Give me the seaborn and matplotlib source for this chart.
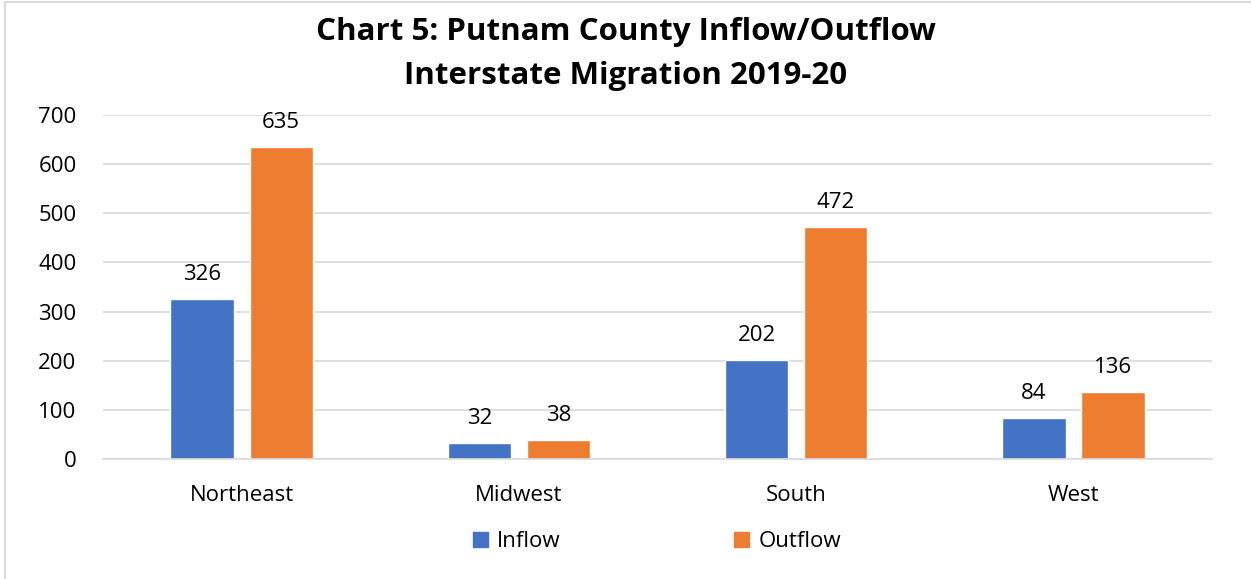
import seaborn as sns
import matplotlib.pyplot as plt
import pandas as pd
from matplotlib.patches import Rectangle

regions = ['Northeast', 'Midwest', 'South', 'West']
inflow = [326, 32, 202, 84]
outflow = [635, 38, 472, 136]
series = ['Inflow', 'Outflow']
colors = ['#4472C4', '#ED7D31']

df = pd.DataFrame({
    'region': regions * 2,
    'value': inflow + outflow,
    'flow': [series[0]] * len(regions) + [series[1]] * len(regions),
})

sns.set_style('white')
plt.rcParams['font.family'] = ['Open Sans', 'DejaVu Sans']
plt.rcParams['text.color'] = 'black'
plt.rcParams['xtick.color'] = 'black'
plt.rcParams['ytick.color'] = 'black'

fig = plt.figure(figsize=(12.51, 5.79), dpi=100)
ax = fig.add_axes([0.0823, 0.2073, 0.8866, 0.5941])

sns.barplot(data=df, x='region', y='value', hue='flow', palette=colors,
            width=0.57, gap=0.2, ax=ax, legend=False, saturation=1)

for c in ax.containers:
    ax.bar_label(c, padding=10, fontsize=16, color='black')

ax.set_ylim(0, 700)
ax.set_yticks(range(0, 701, 100))
ax.yaxis.grid(True, color='#D9D9D9', linewidth=1.2)
ax.set_axisbelow(True)
ax.tick_params(axis='both', length=0, labelsize=16, labelcolor='black')
ax.tick_params(axis='y', pad=19)
ax.tick_params(axis='x', pad=19)
for s in ['top', 'right', 'left']:
    ax.spines[s].set_visible(False)
ax.spines['bottom'].set_color('#D9D9D9')
ax.spines['bottom'].set_linewidth(1.2)
ax.set_xlabel('')
ax.set_ylabel('')

fig.suptitle('Chart 5: Putnam County Inflow/Outflow\nInterstate Migration 2019-20',
             fontsize=22.5, fontweight='bold', y=0.97, linespacing=1.6,
             color='black')

handles = [Rectangle((0, 0), 1, 1, color=c) for c in colors]
fig.legend(handles, series, loc='center', bbox_to_anchor=(0.525, 0.064), ncol=2,
           frameon=False, fontsize=16, handlelength=0.7, handleheight=0.7,
           handletextpad=0.4, columnspacing=7.8)

fig.add_artist(Rectangle((0.004, -0.01), 1.1, 1.0065, transform=fig.transFigure,
                         fill=False, edgecolor='#D9D9D9', linewidth=1.5))

fig.savefig('out.png', dpi=100)
